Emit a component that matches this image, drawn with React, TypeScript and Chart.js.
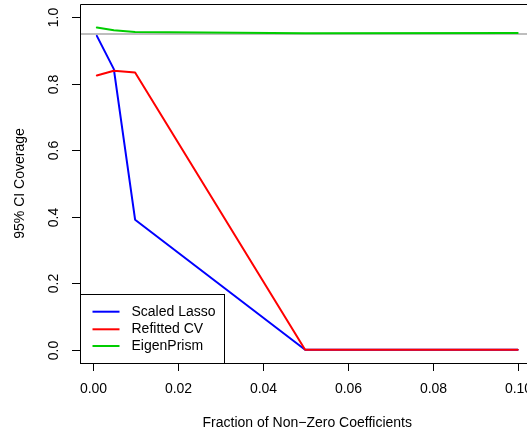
import React, { useEffect, useRef } from "react";
import { Chart, registerables } from "chart.js";

Chart.register(...registerables);

const xValues = [0.001, 0.005, 0.01, 0.05, 0.1];
const scaledLasso = [0.944, 0.844, 0.391, 0, 0];
const refittedCV = [0.825, 0.839, 0.834, 0, 0];
const eigenPrism = [0.969, 0.961, 0.956, 0.952, 0.953];
const seriesNames = ["Scaled Lasso", "Refitted CV", "EigenPrism"];
const seriesColors = ["#0000FF", "#FF0000", "#00CD00"];
const xTicks = [0, 0.02, 0.04, 0.06, 0.08, 0.1];
const xTickLabels = ["0.00", "0.02", "0.04", "0.06", "0.08", "0.10"];
const yTicks = [0, 0.2, 0.4, 0.6, 0.8, 1.0];
const yTickLabels = ["0.0", "0.2", "0.4", "0.6", "0.8", "1.0"];
const refLine = 0.95;
const xTitle = "Fraction of Non\u2212Zero Coefficients";
const yTitle = "95% CI Coverage";

const FONT = "14px 'Liberation Sans', Arial, Helvetica, sans-serif";

const rPlotPlugin = {
  id: "rplot",
  beforeDraw(chart: any) {
    const ctx = chart.ctx;
    ctx.save();
    ctx.fillStyle = "#FFFFFF";
    ctx.fillRect(0, 0, chart.width, chart.height);
    ctx.restore();
  },
  beforeDatasetsDraw(chart: any) {
    const ctx = chart.ctx;
    const { left, right } = chart.chartArea;
    const ys = chart.scales.y;
    ctx.save();
    const yr = ys.getPixelForValue(refLine);
    ctx.strokeStyle = "#BEBEBE";
    ctx.lineWidth = 2;
    ctx.beginPath();
    ctx.moveTo(left, yr);
    ctx.lineTo(right, yr);
    ctx.stroke();
    ctx.restore();
  },
  afterDatasetsDraw(chart: any) {
    const ctx = chart.ctx;
    const { left, right, top, bottom } = chart.chartArea;
    const xs = chart.scales.x;
    const ys = chart.scales.y;
    ctx.save();
    ctx.strokeStyle = "#000000";
    ctx.lineWidth = 1;
    ctx.beginPath();
    ctx.moveTo(right + 10, top + 0.5);
    ctx.lineTo(left + 0.5, top + 0.5);
    ctx.lineTo(left + 0.5, bottom + 0.5);
    ctx.lineTo(right + 10, bottom + 0.5);
    ctx.stroke();

    ctx.font = FONT;
    ctx.fillStyle = "#000000";
    ctx.textAlign = "center";
    ctx.textBaseline = "middle";
    xTicks.forEach((v, i) => {
      const px = Math.round(xs.getPixelForValue(v)) + 0.5;
      ctx.beginPath();
      ctx.moveTo(px, bottom);
      ctx.lineTo(px, bottom + 8);
      ctx.stroke();
      ctx.fillText(xTickLabels[i], px, bottom + 26);
    });
    yTicks.forEach((v, i) => {
      const py = Math.round(ys.getPixelForValue(v)) + 0.5;
      ctx.beginPath();
      ctx.moveTo(left - 8, py);
      ctx.lineTo(left, py);
      ctx.stroke();
      ctx.save();
      ctx.translate(left - 26, py);
      ctx.rotate(-Math.PI / 2);
      ctx.fillText(yTickLabels[i], 0, 0);
      ctx.restore();
    });
    const xCenter = (xs.getPixelForValue(xs.min) + xs.getPixelForValue(0.10396)) / 2;
    ctx.fillText(xTitle, xCenter, bottom + 60);
    ctx.save();
    ctx.translate(20, (top + bottom) / 2);
    ctx.rotate(-Math.PI / 2);
    ctx.fillText(yTitle, 0, 0);
    ctx.restore();

    const lx = left + 0.5;
    const ly = bottom - 69;
    const lw = 144;
    const lh = 69;
    ctx.fillStyle = "#FFFFFF";
    ctx.fillRect(lx, ly, lw, lh);
    ctx.strokeStyle = "#000000";
    ctx.lineWidth = 1;
    ctx.strokeRect(lx, ly + 0.5, lw, lh);
    const rows = [17.7, 35.3, 52];
    ctx.textAlign = "left";
    ctx.textBaseline = "middle";
    seriesNames.forEach((name, i) => {
      const ry = ly + rows[i];
      ctx.strokeStyle = seriesColors[i];
      ctx.lineWidth = 2;
      ctx.beginPath();
      ctx.moveTo(lx + 12, ry);
      ctx.lineTo(lx + 39, ry);
      ctx.stroke();
      ctx.fillStyle = "#000000";
      ctx.fillText(name, lx + 51, ry);
    });
    ctx.restore();
  },
};

export default function App() {
  const canvasRef = useRef<HTMLCanvasElement>(null);
  useEffect(() => {
    const canvas = canvasRef.current;
    if (!canvas) return;
    const seriesData = [scaledLasso, refittedCV, eigenPrism];
    const chart = new Chart(canvas, {
      type: "line",
      data: {
        datasets: seriesData.map((vals, i) => ({
          label: seriesNames[i],
          data: xValues.map((x, j) => ({ x, y: vals[j] })),
          borderColor: seriesColors[i],
          backgroundColor: seriesColors[i],
          borderWidth: 2,
          pointRadius: 0,
          borderCapStyle: "round" as const,
          borderJoinStyle: "round" as const,
          tension: 0,
          fill: false,
          order: 3 - i,
        })),
      },
      options: {
        responsive: false,
        animation: false,
        layout: { padding: { left: 80, top: 4, right: 0, bottom: 75 } },
        scales: {
          x: { type: "linear", display: false, min: -0.00296, max: 0.10219 },
          y: { type: "linear", display: false, min: -0.04, max: 1.04 },
        },
        plugins: {
          legend: { display: false },
          tooltip: { enabled: false },
        },
      },
      plugins: [rPlotPlugin],
    });
    return () => chart.destroy();
  }, []);
  return (
    <div style={{ position: "fixed", left: 0, top: 0, width: 527, height: 438 }}>
      <canvas ref={canvasRef} width={527} height={438} style={{ width: 527, height: 438 }} />
    </div>
  );
}
